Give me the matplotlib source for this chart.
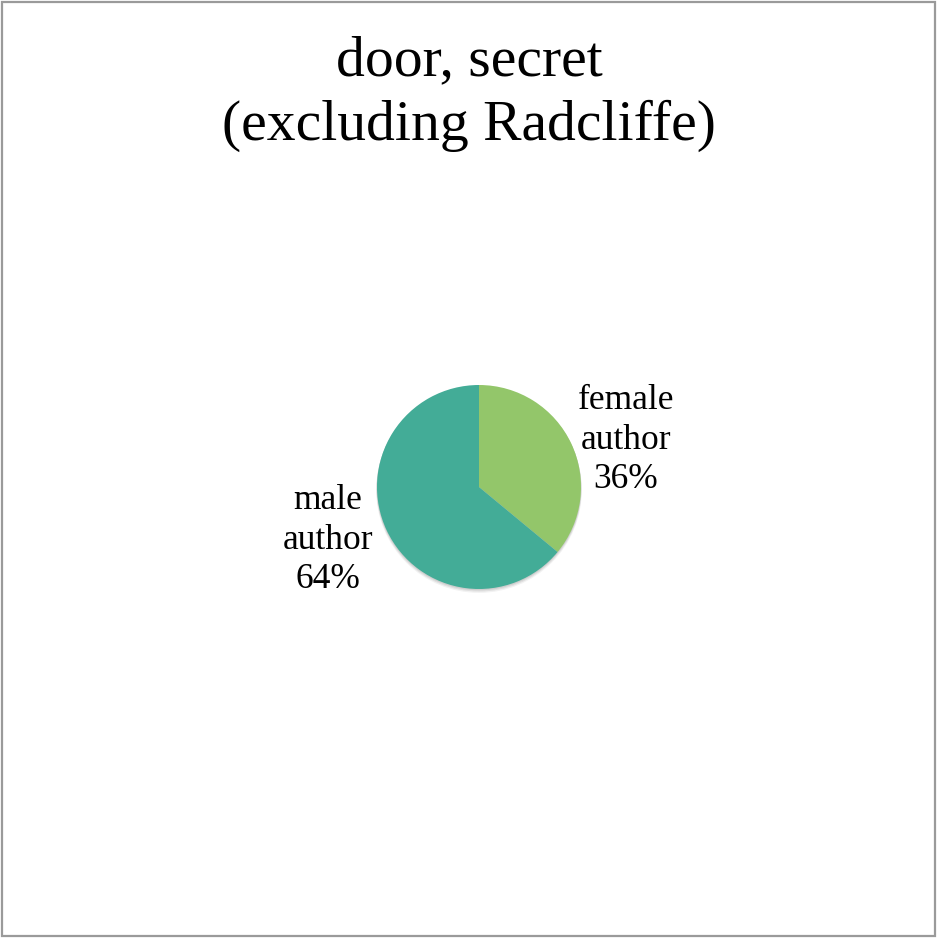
import matplotlib.pyplot as plt
from matplotlib.patches import Rectangle, Circle

# data
labels = ['female\nauthor', 'male\nauthor']
shares = [36, 64]
colors = ['#93C66A', '#43AC97']
title = 'door, secret\n(excluding Radcliffe)'

plt.rcParams['font.family'] = ['Liberation Serif', 'DejaVu Serif']

fig = plt.figure(figsize=(9.38, 9.38), dpi=100)
ax = fig.add_axes([0, 0, 1, 1])

# soft shadow under the pie
for k, a in [(3, 0.05), (2, 0.07), (1, 0.08)]:
    ax.add_patch(Circle((479, 451 - k), 102 + k * 0.3, color='black', alpha=a, lw=0))

ax.pie(shares, colors=colors, startangle=90, counterclock=False,
       center=(479, 451), radius=102, wedgeprops=dict(lw=0))

# pie() resets limits, so set them afterwards
ax.set_xlim(0, 938)
ax.set_ylim(0, 938)
ax.set_aspect('equal')
ax.axis('off')

# border
ax.add_patch(Rectangle((1.5, 2.5), 933.5, 934, fill=False, ec='#9a9a9a', lw=1.6))

# labels
ax.text(626, 938 - 440, labels[0] + '\n%d%%' % shares[0], ha='center', va='center',
        fontsize=25.5, linespacing=1.25)
ax.text(328, 938 - 540, labels[1] + '\n%d%%' % shares[1], ha='center', va='center',
        fontsize=25.5, linespacing=1.25)

ax.text(469, 938 - 94, title, ha='center', va='center', fontsize=41.5, linespacing=1.3)

fig.savefig('out.png', dpi=100)
